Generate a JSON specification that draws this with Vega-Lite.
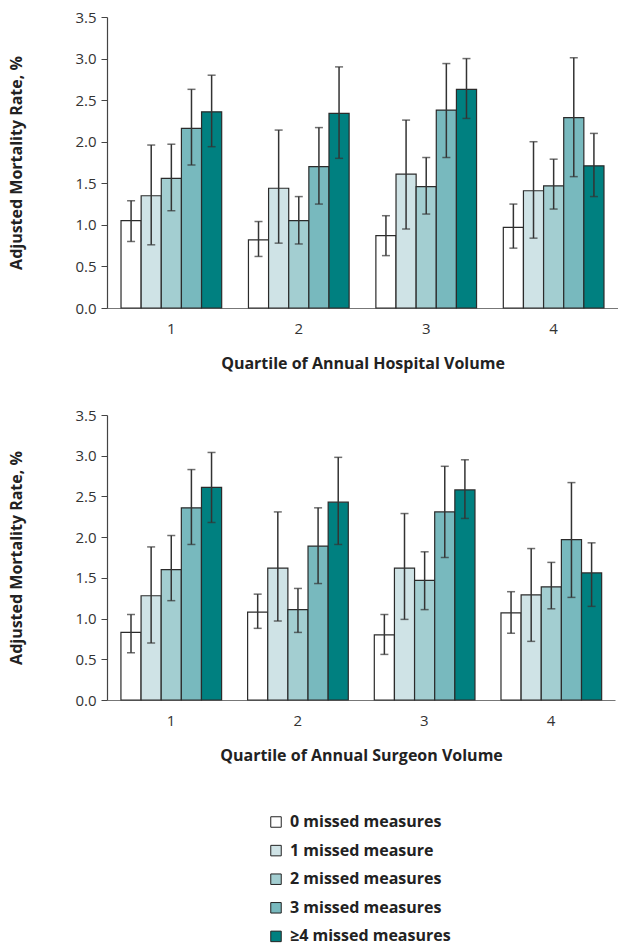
{
  "$schema": "https://vega.github.io/schema/vega-lite/v6.json",
  "background": "white",
  "padding": {"left": 8, "top": 10, "right": 0, "bottom": 0},
  "spacing": 37,
  "datasets": {
    "hospital": [
      {"q": "1", "m": "0 missed measures", "rate": 1.05, "lo": 0.80, "hi": 1.29},
      {"q": "1", "m": "1 missed measure", "rate": 1.35, "lo": 0.76, "hi": 1.96},
      {"q": "1", "m": "2 missed measures", "rate": 1.56, "lo": 1.17, "hi": 1.97},
      {"q": "1", "m": "3 missed measures", "rate": 2.16, "lo": 1.72, "hi": 2.63},
      {"q": "1", "m": "≥4 missed measures", "rate": 2.36, "lo": 1.94, "hi": 2.80},
      {"q": "2", "m": "0 missed measures", "rate": 0.82, "lo": 0.62, "hi": 1.04},
      {"q": "2", "m": "1 missed measure", "rate": 1.44, "lo": 0.78, "hi": 2.14},
      {"q": "2", "m": "2 missed measures", "rate": 1.05, "lo": 0.77, "hi": 1.34},
      {"q": "2", "m": "3 missed measures", "rate": 1.70, "lo": 1.25, "hi": 2.17},
      {"q": "2", "m": "≥4 missed measures", "rate": 2.34, "lo": 1.80, "hi": 2.90},
      {"q": "3", "m": "0 missed measures", "rate": 0.87, "lo": 0.63, "hi": 1.11},
      {"q": "3", "m": "1 missed measure", "rate": 1.61, "lo": 0.95, "hi": 2.26},
      {"q": "3", "m": "2 missed measures", "rate": 1.46, "lo": 1.13, "hi": 1.81},
      {"q": "3", "m": "3 missed measures", "rate": 2.38, "lo": 1.81, "hi": 2.94},
      {"q": "3", "m": "≥4 missed measures", "rate": 2.63, "lo": 2.28, "hi": 3.00},
      {"q": "4", "m": "0 missed measures", "rate": 0.97, "lo": 0.72, "hi": 1.25},
      {"q": "4", "m": "1 missed measure", "rate": 1.41, "lo": 0.84, "hi": 2.00},
      {"q": "4", "m": "2 missed measures", "rate": 1.47, "lo": 1.19, "hi": 1.79},
      {"q": "4", "m": "3 missed measures", "rate": 2.29, "lo": 1.58, "hi": 3.01},
      {"q": "4", "m": "≥4 missed measures", "rate": 1.71, "lo": 1.34, "hi": 2.10}
    ],
    "surgeon": [
      {"q": "1", "m": "0 missed measures", "rate": 0.83, "lo": 0.58, "hi": 1.05},
      {"q": "1", "m": "1 missed measure", "rate": 1.28, "lo": 0.70, "hi": 1.88},
      {"q": "1", "m": "2 missed measures", "rate": 1.60, "lo": 1.22, "hi": 2.02},
      {"q": "1", "m": "3 missed measures", "rate": 2.36, "lo": 1.91, "hi": 2.83},
      {"q": "1", "m": "≥4 missed measures", "rate": 2.61, "lo": 2.18, "hi": 3.04},
      {"q": "2", "m": "0 missed measures", "rate": 1.08, "lo": 0.88, "hi": 1.30},
      {"q": "2", "m": "1 missed measure", "rate": 1.62, "lo": 0.97, "hi": 2.31},
      {"q": "2", "m": "2 missed measures", "rate": 1.11, "lo": 0.83, "hi": 1.37},
      {"q": "2", "m": "3 missed measures", "rate": 1.89, "lo": 1.43, "hi": 2.36},
      {"q": "2", "m": "≥4 missed measures", "rate": 2.43, "lo": 1.91, "hi": 2.98},
      {"q": "3", "m": "0 missed measures", "rate": 0.80, "lo": 0.56, "hi": 1.05},
      {"q": "3", "m": "1 missed measure", "rate": 1.62, "lo": 0.99, "hi": 2.29},
      {"q": "3", "m": "2 missed measures", "rate": 1.47, "lo": 1.11, "hi": 1.82},
      {"q": "3", "m": "3 missed measures", "rate": 2.31, "lo": 1.75, "hi": 2.87},
      {"q": "3", "m": "≥4 missed measures", "rate": 2.58, "lo": 2.23, "hi": 2.95},
      {"q": "4", "m": "0 missed measures", "rate": 1.07, "lo": 0.82, "hi": 1.33},
      {"q": "4", "m": "1 missed measure", "rate": 1.29, "lo": 0.72, "hi": 1.86},
      {"q": "4", "m": "2 missed measures", "rate": 1.39, "lo": 1.12, "hi": 1.69},
      {"q": "4", "m": "3 missed measures", "rate": 1.97, "lo": 1.26, "hi": 2.67},
      {"q": "4", "m": "≥4 missed measures", "rate": 1.56, "lo": 1.15, "hi": 1.93}
    ]
  },
  "vconcat": [
    {
      "width": 511,
      "height": 291,
      "data": {"name": "hospital"},
      "encoding": {
        "x": {"field": "q", "type": "nominal", "title": "Quartile of Annual Hospital Volume",
              "scale": {"paddingInner": 0.21, "paddingOuter": 0.11},
              "axis": {"labelAngle": 0, "ticks": false, "labelPadding": 13, "titlePadding": 19, "domainColor": "#777"}},
        "xOffset": {"field": "m", "type": "nominal",
                    "sort": ["0 missed measures", "1 missed measure", "2 missed measures", "3 missed measures", "≥4 missed measures"],
                    "scale": {"paddingInner": 0, "paddingOuter": 0}}
      },
      "layer": [
        {
          "mark": {"type": "bar", "stroke": "#2b2b2b", "strokeWidth": 1.2},
          "encoding": {
            "y": {"field": "rate", "type": "quantitative", "title": "Adjusted Mortality Rate, %",
                  "scale": {"domain": [0, 3.5]},
                  "axis": {"values": [0, 0.5, 1, 1.5, 2, 2.5, 3, 3.5], "format": ".1f", "tickSize": 6, "labelPadding": 5, "titlePadding": 50}},
            "fill": {"field": "m", "type": "nominal",
                     "scale": {"domain": ["0 missed measures", "1 missed measure", "2 missed measures", "3 missed measures", "≥4 missed measures"],
                               "range": ["#ffffff", "#cfe3e6", "#a3ced1", "#78b9be", "#008080"]},
                     "legend": {"orient": "none", "legendX": 161, "legendY": 797, "title": null, "direction": "vertical"}}
          }
        },
        {
          "mark": {"type": "rule", "color": "#333333", "strokeWidth": 1.5},
          "encoding": {
            "y": {"field": "lo", "type": "quantitative", "title": "Adjusted Mortality Rate, %"},
            "y2": {"field": "hi"}
          }
        },
        {
          "mark": {"type": "tick", "color": "#333333", "thickness": 1.5, "size": 8},
          "encoding": {"y": {"field": "lo", "type": "quantitative", "title": "Adjusted Mortality Rate, %"}}
        },
        {
          "mark": {"type": "tick", "color": "#333333", "thickness": 1.5, "size": 8},
          "encoding": {"y": {"field": "hi", "type": "quantitative", "title": "Adjusted Mortality Rate, %"}}
        }
      ]
    },
    {
      "width": 508,
      "height": 285,
      "data": {"name": "surgeon"},
      "encoding": {
        "x": {"field": "q", "type": "nominal", "title": "Quartile of Annual Surgeon Volume",
              "scale": {"paddingInner": 0.21, "paddingOuter": 0.11},
              "axis": {"labelAngle": 0, "ticks": false, "labelPadding": 13, "titlePadding": 19, "domainColor": "#777"}},
        "xOffset": {"field": "m", "type": "nominal",
                    "sort": ["0 missed measures", "1 missed measure", "2 missed measures", "3 missed measures", "≥4 missed measures"],
                    "scale": {"paddingInner": 0, "paddingOuter": 0}}
      },
      "layer": [
        {
          "mark": {"type": "bar", "stroke": "#2b2b2b", "strokeWidth": 1.2},
          "encoding": {
            "y": {"field": "rate", "type": "quantitative", "title": "Adjusted Mortality Rate, %",
                  "scale": {"domain": [0, 3.5]},
                  "axis": {"values": [0, 0.5, 1, 1.5, 2, 2.5, 3, 3.5], "format": ".1f", "tickSize": 6, "labelPadding": 5, "titlePadding": 50}},
            "fill": {"field": "m", "type": "nominal",
                     "scale": {"domain": ["0 missed measures", "1 missed measure", "2 missed measures", "3 missed measures", "≥4 missed measures"],
                               "range": ["#ffffff", "#cfe3e6", "#a3ced1", "#78b9be", "#008080"]},
                     "legend": {"orient": "none", "legendX": 161, "legendY": 797, "title": null, "direction": "vertical"}}
          }
        },
        {
          "mark": {"type": "rule", "color": "#333333", "strokeWidth": 1.5},
          "encoding": {
            "y": {"field": "lo", "type": "quantitative", "title": "Adjusted Mortality Rate, %"},
            "y2": {"field": "hi"}
          }
        },
        {
          "mark": {"type": "tick", "color": "#333333", "thickness": 1.5, "size": 8},
          "encoding": {"y": {"field": "lo", "type": "quantitative", "title": "Adjusted Mortality Rate, %"}}
        },
        {
          "mark": {"type": "tick", "color": "#333333", "thickness": 1.5, "size": 8},
          "encoding": {"y": {"field": "hi", "type": "quantitative", "title": "Adjusted Mortality Rate, %"}}
        }
      ]
    }
  ],
  "config": {
    "view": {"stroke": null},
    "font": "Open Sans",
    "axis": {
      "grid": false,
      "labelFont": "Open Sans",
      "labelFontSize": 15,
      "labelColor": "#333333",
      "titleFont": "Open Sans",
      "titleFontSize": 16,
      "titleFontWeight": "bold",
      "titleColor": "#222222",
      "domainColor": "#444444",
      "domainWidth": 1.2,
      "tickColor": "#444444"
    },
    "legend": {
      "labelFont": "Open Sans",
      "labelFontSize": 16,
      "labelFontWeight": "bold",
      "labelColor": "#222222",
      "labelLimit": 300,
      "symbolType": "square",
      "symbolSize": 110,
      "symbolStrokeColor": "#222222",
      "symbolStrokeWidth": 1,
      "rowPadding": 12.6,
      "labelOffset": 6
    }
  }
}
